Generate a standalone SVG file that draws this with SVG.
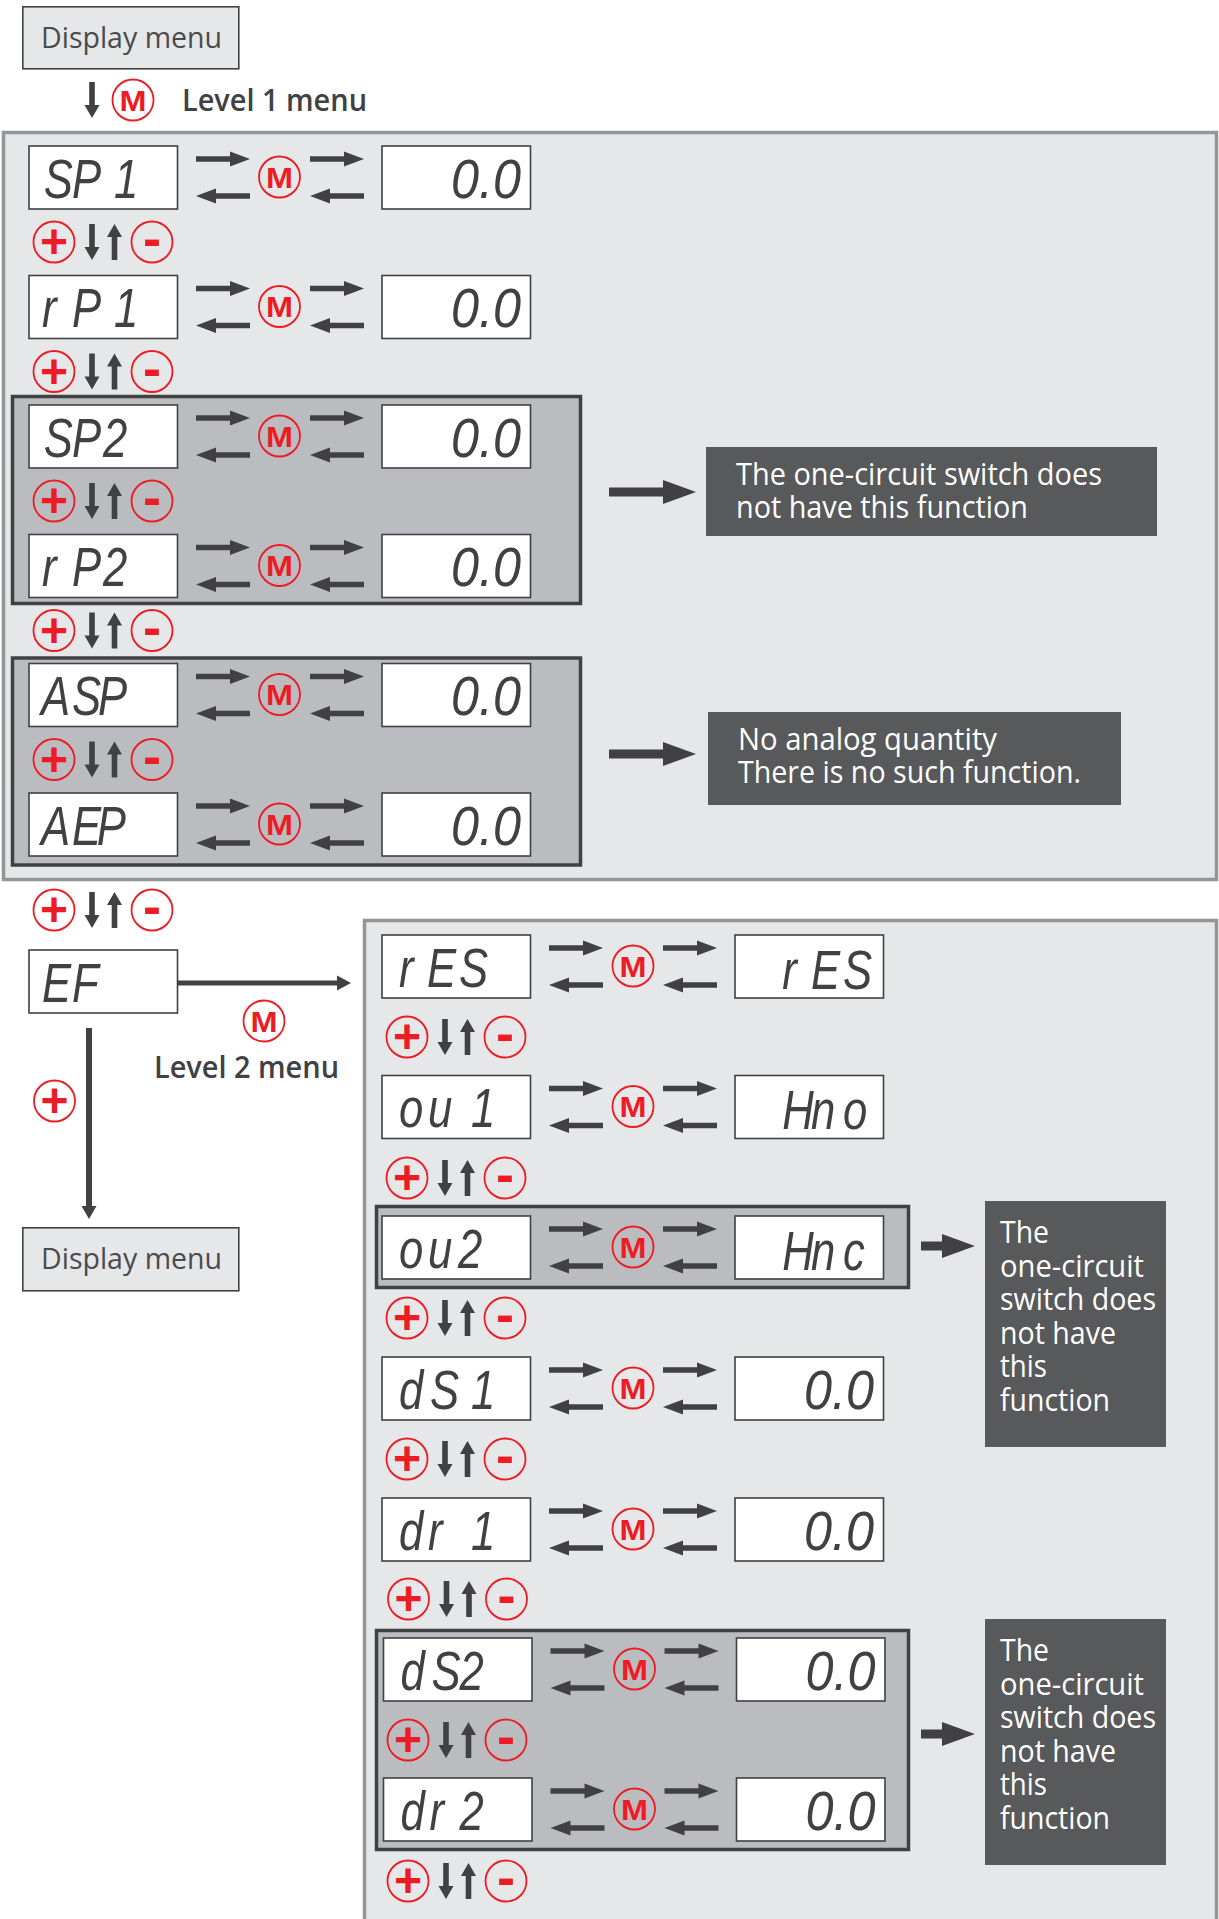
<svg xmlns="http://www.w3.org/2000/svg" xmlns:xlink="http://www.w3.org/1999/xlink" width="1219" height="1919" viewBox="0 0 1219 1919">
<style>
.p{fill:#e6e7e9;stroke:#939598;stroke-width:3.5}
.g{fill:#bbbcc0;stroke:#414042;stroke-width:3.5}
.b{fill:#fff;stroke:#414042;stroke-width:1.6}
.d{fill:#e6e7e9;stroke:#414042;stroke-width:1.6}
.c{fill:#58595b}
.a{fill:#414042}
.r{fill:none;stroke:#ed1c24;stroke-width:1.8}
.m{font:bold 30px "Liberation Sans",Arial,sans-serif;fill:#ed1c24;text-anchor:middle}
.pl{font:bold 48px "Liberation Sans",Arial,sans-serif;fill:#ed1c24;text-anchor:middle}
.mi{font:bold 54px "Liberation Sans",Arial,sans-serif;fill:#ed1c24;text-anchor:middle}
.s{font:italic 56px "Liberation Sans",Arial,sans-serif;fill:#414042}
.t{font:30px "Open Sans","Noto Sans",sans-serif;fill:#4a4b4d}
.h{font:600 30px "Open Sans","Noto Sans",sans-serif;fill:#414042}
.w{font:31px "Open Sans","Noto Sans",sans-serif;fill:#fff}
</style>
<defs>
<path id="ar" class="a" d="M0-2.800H34V-7.500L54 0 34 7.500V2.800H0Z"/>
<path id="al" class="a" d="M54-2.800H20V-7.500L0 0 20 7.500V2.800H54Z"/>
<path id="dn" class="a" d="M-2.800-18H2.800V5H7.500L0 18-7.500 5H-2.800Z"/>
<path id="up" class="a" d="M-2.800 18H2.800V-5H7.500L0-18-7.500-5H-2.800Z"/>
<path id="big" class="a" d="M0-4.500H54V-12L87 0 54 12V4.500H0Z"/>
<path id="big2" class="a" d="M0-4.500H21V-12L54 0 21 12V4.500H0Z"/>
<g id="swap"><use xlink:href="#ar" x="167" y="13"/><use xlink:href="#al" x="167" y="50"/><use xlink:href="#ar" x="281" y="13"/><use xlink:href="#al" x="281" y="50"/></g>
<g id="ud"><use xlink:href="#dn" x="38"/><use xlink:href="#up" x="60.500"/></g>
<circle id="o" class="r" r="20.500"/>
<rect id="lb" class="b" width="148.500" height="63"/>
<rect id="vb" class="b" x="353" width="148.500" height="63"/>
</defs>

<g id="panels">
<rect id="panel-level1" class="p" x="3.500" y="132.500" width="1213" height="747"/>
<rect id="panel-level2" class="p" x="364.500" y="920.500" width="852" height="1010"/>
<rect id="group-sp2-rp2" class="g" x="12.500" y="396.500" width="568" height="207"/>
<rect id="group-asp-aep" class="g" x="12.500" y="658" width="568" height="207"/>
<rect id="group-ou2" class="g" x="376.500" y="1206.500" width="532" height="81"/>
<rect id="group-ds2-dr2" class="g" x="376.500" y="1630.500" width="532" height="219"/>
</g>

<g id="connectors">
<use xlink:href="#dn" x="92" y="100"/>
<path class="a" d="M178 980.500H337V975.500L351 983 337 990.500V985.500H178Z"/>
<path class="a" d="M86 1028H92V1206H96.500L89 1219 81.500 1206H86Z"/>
<use xlink:href="#big" x="609" y="492"/>
<use xlink:href="#big" x="609" y="754"/>
<use xlink:href="#big2" x="921" y="1246"/>
<use xlink:href="#big2" x="921" y="1734"/>
<use xlink:href="#swap" x="29" y="146"/>
<use xlink:href="#swap" x="29" y="275.500"/>
<use xlink:href="#swap" x="29" y="405"/>
<use xlink:href="#swap" x="29" y="534.500"/>
<use xlink:href="#swap" x="29" y="663.500"/>
<use xlink:href="#swap" x="29" y="793"/>
<use xlink:href="#swap" x="382" y="935"/>
<use xlink:href="#swap" x="382" y="1075.500"/>
<use xlink:href="#swap" x="382" y="1216"/>
<use xlink:href="#swap" x="382" y="1357"/>
<use xlink:href="#swap" x="382" y="1498"/>
<use xlink:href="#swap" x="383.500" y="1638"/>
<use xlink:href="#swap" x="383.500" y="1778"/>
<use xlink:href="#ud" x="54" y="242"/>
<use xlink:href="#ud" x="54" y="371.500"/>
<use xlink:href="#ud" x="54" y="501"/>
<use xlink:href="#ud" x="54" y="630.500"/>
<use xlink:href="#ud" x="54" y="759.500"/>
<use xlink:href="#ud" x="54" y="910"/>
<use xlink:href="#ud" x="407" y="1037"/>
<use xlink:href="#ud" x="407" y="1178"/>
<use xlink:href="#ud" x="407" y="1318"/>
<use xlink:href="#ud" x="407" y="1459"/>
<use xlink:href="#ud" x="408.500" y="1599"/>
<use xlink:href="#ud" x="408" y="1740"/>
<use xlink:href="#ud" x="408" y="1881"/>
</g>

<g id="display-menu-top"><rect class="d" x="22.800" y="6.800" width="216" height="62"/><text class="t" x="41" y="48" textLength="181" lengthAdjust="spacingAndGlyphs">Display menu</text></g>
<g id="level1-label"><use xlink:href="#o" x="133" y="100"/><text class="m" x="133" y="110.500" textLength="27" lengthAdjust="spacingAndGlyphs">M</text><text class="h" x="182" y="111" textLength="185" lengthAdjust="spacingAndGlyphs">Level 1 menu</text></g>

<g id="row-sp1" transform="translate(29,146)"><use xlink:href="#lb"/><use xlink:href="#vb"/><use xlink:href="#o" x="250.500" y="31"/><text class="m" x="250.500" y="41.500" textLength="27" lengthAdjust="spacingAndGlyphs">M</text><text class="s" transform="scale(.78,1)" x="19 55 109" y="52">SP1</text><text class="s" transform="scale(.9,1)" x="468.900 500 515.600" y="52">0.0</text></g>
<g id="row-rp1" transform="translate(29,275.500)"><use xlink:href="#lb"/><use xlink:href="#vb"/><use xlink:href="#o" x="250.500" y="31"/><text class="m" x="250.500" y="41.500" textLength="27" lengthAdjust="spacingAndGlyphs">M</text><text class="s" transform="scale(.78,1)" x="16.700 55 109" y="52">rP1</text><text class="s" transform="scale(.9,1)" x="468.900 500 515.600" y="52">0.0</text></g>
<g id="row-sp2" transform="translate(29,405)"><use xlink:href="#lb"/><use xlink:href="#vb"/><use xlink:href="#o" x="250.500" y="31"/><text class="m" x="250.500" y="41.500" textLength="27" lengthAdjust="spacingAndGlyphs">M</text><text class="s" transform="scale(.78,1)" x="19 55 95" y="52">SP2</text><text class="s" transform="scale(.9,1)" x="468.900 500 515.600" y="52">0.0</text></g>
<g id="row-rp2" transform="translate(29,534.500)"><use xlink:href="#lb"/><use xlink:href="#vb"/><use xlink:href="#o" x="250.500" y="31"/><text class="m" x="250.500" y="41.500" textLength="27" lengthAdjust="spacingAndGlyphs">M</text><text class="s" transform="scale(.78,1)" x="16.700 55 95" y="52">rP2</text><text class="s" transform="scale(.9,1)" x="468.900 500 515.600" y="52">0.0</text></g>
<g id="row-asp" transform="translate(29,663.500)"><use xlink:href="#lb"/><use xlink:href="#vb"/><use xlink:href="#o" x="250.500" y="31"/><text class="m" x="250.500" y="41.500" textLength="27" lengthAdjust="spacingAndGlyphs">M</text><text class="s" transform="scale(.78,1)" x="15.400 55 88.500" y="52">ASP</text><text class="s" transform="scale(.9,1)" x="468.900 500 515.600" y="52">0.0</text></g>
<g id="row-aep" transform="translate(29,793)"><use xlink:href="#lb"/><use xlink:href="#vb"/><use xlink:href="#o" x="250.500" y="31"/><text class="m" x="250.500" y="41.500" textLength="27" lengthAdjust="spacingAndGlyphs">M</text><text class="s" transform="scale(.78,1)" x="15.400 55 87" y="52">AEP</text><text class="s" transform="scale(.9,1)" x="468.900 500 515.600" y="52">0.0</text></g>
<g id="row-ef" transform="translate(29,950)"><use xlink:href="#lb"/><text class="s" transform="scale(.78,1)" x="16.700 55" y="52">EF</text></g>

<g id="row-res" transform="translate(382,935)"><use xlink:href="#lb"/><use xlink:href="#vb"/><use xlink:href="#o" x="251" y="31"/><text class="m" x="251" y="41.500" textLength="27" lengthAdjust="spacingAndGlyphs">M</text><text class="s" transform="scale(.78,1)" x="21.800 57.700 98.700" y="52">rES</text><text class="s" transform="scale(.78,1)" x="513 550 591" y="54">rES</text></g>
<g id="row-ou1" transform="translate(382,1075.500)"><use xlink:href="#lb"/><use xlink:href="#vb"/><use xlink:href="#o" x="251" y="31"/><text class="m" x="251" y="41.500" textLength="27" lengthAdjust="spacingAndGlyphs">M</text><text class="s" transform="scale(.78,1)" x="21.800 59 114" y="52">ou1</text><text class="s" transform="scale(.78,1)" x="513 550 591" y="54">Hno</text></g>
<g id="row-ou2" transform="translate(382,1216)"><use xlink:href="#lb"/><use xlink:href="#vb"/><use xlink:href="#o" x="251" y="31"/><text class="m" x="251" y="41.500" textLength="27" lengthAdjust="spacingAndGlyphs">M</text><text class="s" transform="scale(.78,1)" x="21.800 59 97.400" y="52">ou2</text><text class="s" transform="scale(.78,1)" x="513 550 591" y="54">Hnc</text></g>
<g id="row-ds1" transform="translate(382,1357)"><use xlink:href="#lb"/><use xlink:href="#vb"/><use xlink:href="#o" x="251" y="31"/><text class="m" x="251" y="41.500" textLength="27" lengthAdjust="spacingAndGlyphs">M</text><text class="s" transform="scale(.78,1)" x="21.800 61.500 114" y="52">dS1</text><text class="s" transform="scale(.9,1)" x="468.900 500 515.600" y="52">0.0</text></g>
<g id="row-dr1" transform="translate(382,1498)"><use xlink:href="#lb"/><use xlink:href="#vb"/><use xlink:href="#o" x="251" y="31"/><text class="m" x="251" y="41.500" textLength="27" lengthAdjust="spacingAndGlyphs">M</text><text class="s" transform="scale(.78,1)" x="21.800 59 114" y="52">dr1</text><text class="s" transform="scale(.9,1)" x="468.900 500 515.600" y="52">0.0</text></g>
<g id="row-ds2" transform="translate(383.500,1638)"><use xlink:href="#lb"/><use xlink:href="#vb"/><use xlink:href="#o" x="251" y="31"/><text class="m" x="251" y="41.500" textLength="27" lengthAdjust="spacingAndGlyphs">M</text><text class="s" transform="scale(.78,1)" x="21.800 61.500 97.400" y="52">dS2</text><text class="s" transform="scale(.9,1)" x="468.900 500 515.600" y="52">0.0</text></g>
<g id="row-dr2" transform="translate(383.500,1778)"><use xlink:href="#lb"/><use xlink:href="#vb"/><use xlink:href="#o" x="251" y="31"/><text class="m" x="251" y="41.500" textLength="27" lengthAdjust="spacingAndGlyphs">M</text><text class="s" transform="scale(.78,1)" x="21.800 59 97.400" y="52">dr2</text><text class="s" transform="scale(.9,1)" x="468.900 500 515.600" y="52">0.0</text></g>

<g id="keys-1" transform="translate(54,242)"><use xlink:href="#o"/><use xlink:href="#o" x="98"/><text class="pl" y="16">+</text><text class="mi" x="98" y="15">-</text></g>
<g id="keys-2" transform="translate(54,371.500)"><use xlink:href="#o"/><use xlink:href="#o" x="98"/><text class="pl" y="16">+</text><text class="mi" x="98" y="15">-</text></g>
<g id="keys-3" transform="translate(54,501)"><use xlink:href="#o"/><use xlink:href="#o" x="98"/><text class="pl" y="16">+</text><text class="mi" x="98" y="15">-</text></g>
<g id="keys-4" transform="translate(54,630.500)"><use xlink:href="#o"/><use xlink:href="#o" x="98"/><text class="pl" y="16">+</text><text class="mi" x="98" y="15">-</text></g>
<g id="keys-5" transform="translate(54,759.500)"><use xlink:href="#o"/><use xlink:href="#o" x="98"/><text class="pl" y="16">+</text><text class="mi" x="98" y="15">-</text></g>
<g id="keys-6" transform="translate(54,910)"><use xlink:href="#o"/><use xlink:href="#o" x="98"/><text class="pl" y="16">+</text><text class="mi" x="98" y="15">-</text></g>
<g id="keys-7" transform="translate(407,1037)"><use xlink:href="#o"/><use xlink:href="#o" x="98"/><text class="pl" y="16">+</text><text class="mi" x="98" y="15">-</text></g>
<g id="keys-8" transform="translate(407,1178)"><use xlink:href="#o"/><use xlink:href="#o" x="98"/><text class="pl" y="16">+</text><text class="mi" x="98" y="15">-</text></g>
<g id="keys-9" transform="translate(407,1318)"><use xlink:href="#o"/><use xlink:href="#o" x="98"/><text class="pl" y="16">+</text><text class="mi" x="98" y="15">-</text></g>
<g id="keys-10" transform="translate(407,1459)"><use xlink:href="#o"/><use xlink:href="#o" x="98"/><text class="pl" y="16">+</text><text class="mi" x="98" y="15">-</text></g>
<g id="keys-11" transform="translate(408.500,1599)"><use xlink:href="#o"/><use xlink:href="#o" x="98"/><text class="pl" y="16">+</text><text class="mi" x="98" y="15">-</text></g>
<g id="keys-12" transform="translate(408,1740)"><use xlink:href="#o"/><use xlink:href="#o" x="98"/><text class="pl" y="16">+</text><text class="mi" x="98" y="15">-</text></g>
<g id="keys-13" transform="translate(408,1881)"><use xlink:href="#o"/><use xlink:href="#o" x="98"/><text class="pl" y="16">+</text><text class="mi" x="98" y="15">-</text></g>

<g id="level2-label"><use xlink:href="#o" x="264" y="1021"/><text class="m" x="264" y="1031.500" textLength="27" lengthAdjust="spacingAndGlyphs">M</text><text class="h" x="154" y="1078" textLength="185" lengthAdjust="spacingAndGlyphs">Level 2 menu</text></g>
<g id="plus-exit"><use xlink:href="#o" x="54.500" y="1101"/><text class="pl" x="54.500" y="1117">+</text></g>
<g id="display-menu-bottom"><rect class="d" x="22.800" y="1227.800" width="216" height="63"/><text class="t" x="41" y="1269" textLength="181" lengthAdjust="spacingAndGlyphs">Display menu</text></g>

<g id="note-1"><rect class="c" x="706" y="447" width="451" height="89"/><text class="w" x="736" y="485" textLength="366" lengthAdjust="spacingAndGlyphs">The one-circuit switch does</text><text class="w" x="736" y="518" textLength="292" lengthAdjust="spacingAndGlyphs">not have this function</text></g>
<g id="note-2"><rect class="c" x="708" y="712" width="413" height="93"/><text class="w" x="738" y="750" textLength="259" lengthAdjust="spacingAndGlyphs">No analog quantity</text><text class="w" x="738" y="783" textLength="343" lengthAdjust="spacingAndGlyphs">There is no such function.</text></g>
<g id="note-3"><rect class="c" x="985" y="1201" width="181" height="246"/><text class="w" x="1000" y="1243" textLength="49" lengthAdjust="spacingAndGlyphs">The</text><text class="w" x="1000" y="1277" textLength="144" lengthAdjust="spacingAndGlyphs">one-circuit</text><text class="w" x="1000" y="1310" textLength="156" lengthAdjust="spacingAndGlyphs">switch does</text><text class="w" x="1000" y="1344" textLength="116" lengthAdjust="spacingAndGlyphs">not have</text><text class="w" x="1000" y="1377" textLength="47" lengthAdjust="spacingAndGlyphs">this</text><text class="w" x="1000" y="1411" textLength="110" lengthAdjust="spacingAndGlyphs">function</text></g>
<g id="note-4"><rect class="c" x="985" y="1619" width="181" height="246"/><text class="w" x="1000" y="1661" textLength="49" lengthAdjust="spacingAndGlyphs">The</text><text class="w" x="1000" y="1695" textLength="144" lengthAdjust="spacingAndGlyphs">one-circuit</text><text class="w" x="1000" y="1728" textLength="156" lengthAdjust="spacingAndGlyphs">switch does</text><text class="w" x="1000" y="1762" textLength="116" lengthAdjust="spacingAndGlyphs">not have</text><text class="w" x="1000" y="1795" textLength="47" lengthAdjust="spacingAndGlyphs">this</text><text class="w" x="1000" y="1829" textLength="110" lengthAdjust="spacingAndGlyphs">function</text></g>
</svg>
